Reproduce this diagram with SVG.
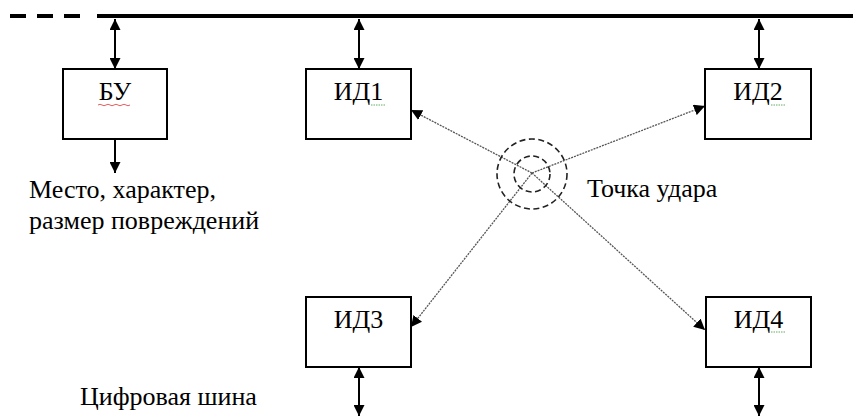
<svg xmlns="http://www.w3.org/2000/svg" width="853" height="416" viewBox="0 0 853 416" font-family="Liberation Serif, Times New Roman, serif">
<defs>
<marker id="ah" viewBox="0 0 10 10" refX="10" refY="5" markerWidth="11" markerHeight="11" markerUnits="userSpaceOnUse" orient="auto-start-reverse">
<path d="M0,0 L10,5 L0,10 z" fill="#000"/>
</marker>
</defs>
<g id="bus">
<line x1="10" y1="16" x2="80" y2="16" stroke="#000" stroke-width="4" stroke-dasharray="16 11"/>
<line x1="97" y1="16" x2="853" y2="16" stroke="#000" stroke-width="4"/>
</g>
<g id="connectors" fill="none">
<g stroke="#000" stroke-width="2">
<line x1="115" y1="19" x2="115" y2="69" marker-start="url(#ah)" marker-end="url(#ah)"/>
<line x1="359" y1="19" x2="359" y2="69" marker-start="url(#ah)" marker-end="url(#ah)"/>
<line x1="759" y1="19" x2="759" y2="69" marker-start="url(#ah)" marker-end="url(#ah)"/>
<line x1="359" y1="367" x2="359" y2="416" marker-start="url(#ah)" marker-end="url(#ah)"/>
<line x1="759" y1="367" x2="759" y2="416" marker-start="url(#ah)" marker-end="url(#ah)"/>
<line x1="115" y1="139" x2="115" y2="173" marker-end="url(#ah)"/>
</g>
<g stroke="#555" stroke-width="1.3" stroke-dasharray="2 1">
<line x1="532" y1="173" x2="411" y2="110" marker-end="url(#ah)"/>
<line x1="532" y1="173" x2="705" y2="106" marker-end="url(#ah)"/>
<line x1="532" y1="173" x2="411" y2="327" marker-end="url(#ah)"/>
<line x1="532" y1="173" x2="705" y2="330" marker-end="url(#ah)"/>
</g>
</g>
<g id="impact">
<circle cx="532" cy="174" r="35" fill="none" stroke="#222" stroke-width="1.6" stroke-dasharray="6 3.5"/>
<circle cx="532" cy="174" r="18" fill="none" stroke="#222" stroke-width="1.6" stroke-dasharray="6 3.5"/>
<text x="587" y="197" font-family="Liberation Serif" font-size="26">Точка удара</text>
</g>
<g id="bu">
<rect x="63" y="69" width="104" height="70" fill="#fff" stroke="#000" stroke-width="2"/>
<text x="115" y="100" font-family="Liberation Serif" font-size="26" text-anchor="middle">БУ</text>
<path d="M98,105 q2,-1.5 4,0 t4,0 t4,0 t4,0 t4,0 t4,0 t4,0 t4,0" stroke="#e06060" stroke-width="1" fill="none"/>
</g>
<g id="id1">
<rect x="306" y="69" width="105" height="70" fill="#fff" stroke="#000" stroke-width="2"/>
<text x="358.5" y="100" font-family="Liberation Serif" font-size="26" text-anchor="middle">ИД1</text>
<line x1="371" y1="105" x2="385" y2="105" stroke="#60b060" stroke-width="1" stroke-dasharray="1.5 1"/>
</g>
<g id="id2">
<rect x="705" y="69" width="106" height="70" fill="#fff" stroke="#000" stroke-width="2"/>
<text x="758" y="100" font-family="Liberation Serif" font-size="26" text-anchor="middle">ИД2</text>
<line x1="771" y1="105" x2="785" y2="105" stroke="#60b060" stroke-width="1" stroke-dasharray="1.5 1"/>
</g>
<g id="id3">
<rect x="306" y="297" width="105" height="70" fill="#fff" stroke="#000" stroke-width="2"/>
<text x="358.5" y="328" font-family="Liberation Serif" font-size="26" text-anchor="middle">ИД3</text>
</g>
<g id="id4">
<rect x="706" y="297" width="105" height="70" fill="#fff" stroke="#000" stroke-width="2"/>
<text x="758.5" y="328" font-family="Liberation Serif" font-size="26" text-anchor="middle">ИД4</text>
<line x1="771" y1="332" x2="785" y2="332" stroke="#60b060" stroke-width="1" stroke-dasharray="1.5 1"/>
</g>
<g id="labels">
<text x="29" y="198" font-family="Liberation Serif" font-size="26">Место, характер,</text>
<text x="29" y="229" font-family="Liberation Serif" font-size="26">размер повреждений</text>
<text x="80" y="405" font-family="Liberation Serif" font-size="26">Цифровая шина</text>
</g>
</svg>
